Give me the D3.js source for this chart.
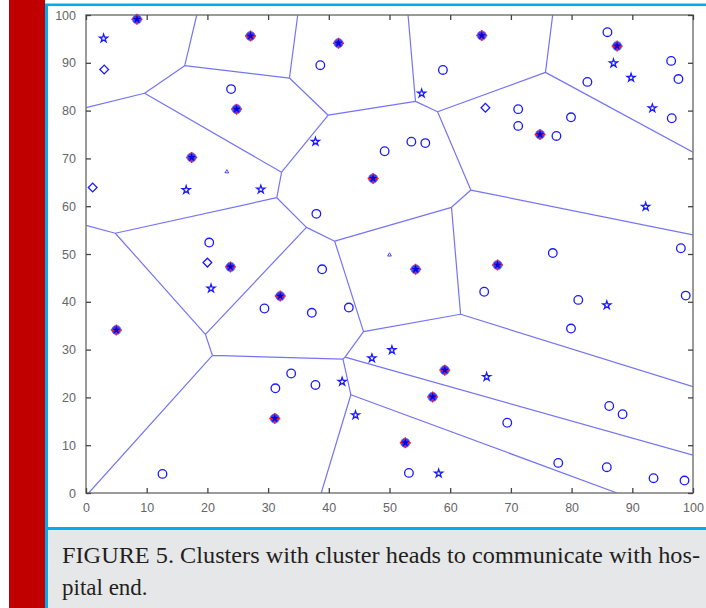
<!DOCTYPE html>
<html><head><meta charset="utf-8">
<script src="https://cdn.jsdelivr.net/npm/d3@7"></script>
<style>html,body{margin:0;padding:0;background:#fff;}svg{display:block;}</style>
</head><body>
<svg id="c" width="706" height="608"></svg>
<script>
// ---- data ----
const xTicks = [0,10,20,30,40,50,60,70,80,90,100];
const yTicks = [0,10,20,30,40,50,60,70,80,90,100];
const clusterHeads = [
  [8.4,99.1],[27.1,95.6],[41.6,94.1],[65.2,95.7],[87.5,93.5],
  [24.8,80.3],[17.4,70.2],[47.3,65.8],[74.8,75.0],
  [23.8,47.3],[54.3,46.8],[67.8,47.7],[32.0,41.2],[5.0,34.1],
  [59.1,25.7],[57.1,20.1],[31.1,15.6],[52.6,10.5]
];
const circleNodes = [
  [23.9,84.5],[38.6,89.5],[37.95,58.4],[20.3,52.4],[58.8,88.5],[85.9,96.4],
  [96.4,90.4],[97.6,86.6],[82.6,86.0],[96.5,78.4],[79.9,78.6],[71.2,80.3],
  [71.2,76.8],[77.5,74.7],[53.6,73.5],[55.9,73.2],[49.2,71.5],[98.0,51.2],
  [76.9,50.2],[38.9,46.8],[29.4,38.6],[37.2,37.7],[43.3,38.8],[33.8,25.0],
  [31.2,21.9],[37.8,22.6],[12.6,4.0],[65.6,42.1],[81.1,40.4],[98.8,41.3],
  [79.9,34.4],[69.4,14.7],[86.2,18.2],[88.4,16.5],[53.2,4.2],[77.8,6.3],
  [85.8,5.4],[93.5,3.1],[98.6,2.6]
];
const diamondNodes = [[3.0,88.6],[1.1,63.9],[20.0,48.2],[65.8,80.6]];
const starNodes = [
  [2.9,95.1],[37.8,73.5],[16.5,63.4],[28.8,63.5],[55.3,83.6],[86.9,89.9],
  [89.8,86.9],[93.3,80.5],[92.2,59.9],[20.6,42.8],[42.2,23.3],[44.4,16.3],
  [85.8,39.3],[50.4,29.9],[47.1,28.2],[66.0,24.3],[58.1,4.1]
];
const tinyNodes = [[50.0,49.8],[23.2,67.2]];
const captionLines = [
  "FIGURE 5. Clusters with cluster heads to communicate with hos-",
  "pital end."
];

// ---- layout ----
const svg = d3.select("#c");
const W = 706, H = 608;
const cyan = "#00aeef";
svg.append("rect").attr("x",0).attr("y",0).attr("width",W).attr("height",H).attr("fill","#fff");
svg.append("rect").attr("x",9).attr("y",0).attr("width",36).attr("height",H).attr("fill","#c00000");
svg.append("rect").attr("x",45).attr("y",3.5).attr("width",W-45).attr("height",H-3.5).attr("fill",cyan);
svg.append("rect").attr("x",48).attr("y",6).attr("width",W-48).attr("height",521).attr("fill","#fff");
svg.append("rect").attr("x",48).attr("y",530).attr("width",W-48).attr("height",H-530).attr("fill","#e6e7e8");

const x = d3.scaleLinear().domain([0,100]).range([86,693]);
const y = d3.scaleLinear().domain([0,100]).range([493,15]);

const g = svg.append("g");
g.append("defs").append("clipPath").attr("id","pc")
  .append("rect").attr("x",x(0)).attr("y",y(100)).attr("width",x(100)-x(0)).attr("height",y(0)-y(100));

// Voronoi of cluster heads, computed in data space
const vor = d3.Delaunay.from(clusterHeads).voronoi([0,0,100,100]);
const p = d3.path();
const ctx = {
  moveTo:(a,b)=>p.moveTo(x(a),y(b)),
  lineTo:(a,b)=>p.lineTo(x(a),y(b)),
  closePath:()=>p.closePath()
};
vor.render(ctx);
g.append("path").attr("d",p.toString()).attr("fill","none")
  .attr("stroke","#5c5cf5").attr("stroke-width",1.2).attr("stroke-opacity",0.85)
  .attr("clip-path","url(#pc)");

// frame + ticks
const frameCol = "#7a7a7a";
g.append("rect").attr("x",x(0)).attr("y",y(100)).attr("width",x(100)-x(0)).attr("height",y(0)-y(100))
  .attr("fill","none").attr("stroke",frameCol).attr("stroke-width",1.5);
const axB = d3.axisBottom(x).tickValues(xTicks).tickSizeInner(-5).tickSizeOuter(0).tickPadding(10);
const axL = d3.axisLeft(y).tickValues(yTicks).tickSizeInner(-5).tickSizeOuter(0).tickPadding(10);
const axT = d3.axisTop(x).tickValues(xTicks).tickSizeInner(-5).tickSizeOuter(0).tickFormat("");
const axR = d3.axisRight(y).tickValues(yTicks).tickSizeInner(-5).tickSizeOuter(0).tickFormat("");
function styleAx(sel){
  sel.select(".domain").remove();
  sel.selectAll(".tick line").attr("stroke","#444").attr("stroke-width",1.3);
  sel.selectAll(".tick text").attr("fill","#666").attr("font-family","'Liberation Sans', Arial, sans-serif").attr("font-size",12.5);
}
g.append("g").attr("transform",`translate(0,${y(0)})`).call(axB).call(styleAx);
g.append("g").attr("transform",`translate(${x(0)},0)`).call(axL).call(styleAx);
g.append("g").attr("transform",`translate(0,${y(100)})`).call(axT).call(styleAx);
g.append("g").attr("transform",`translate(${x(100)},0)`).call(axR).call(styleAx);

// markers
const blue = "#1a1aff";
const sym = (type,size)=>d3.symbol().type(type).size(size);
g.selectAll(".circ").data(circleNodes).join("circle").attr("class","circ")
  .attr("cx",d=>x(d[0])).attr("cy",d=>y(d[1])).attr("r",4.3)
  .attr("fill","none").attr("stroke",blue).attr("stroke-width",1.3);
g.selectAll(".dia").data(diamondNodes).join("path").attr("class","dia")
  .attr("transform",d=>`translate(${x(d[0])},${y(d[1])}) rotate(45)`)
  .attr("d",sym(d3.symbolSquare,38))
  .attr("fill","none").attr("stroke",blue).attr("stroke-width",1.3);
g.selectAll(".star").data(starNodes).join("path").attr("class","star")
  .attr("transform",d=>`translate(${x(d[0])},${y(d[1])})`)
  .attr("d",sym(d3.symbolStar,20))
  .attr("fill","none").attr("stroke",blue).attr("stroke-width",1.3);
g.selectAll(".tiny").data(tinyNodes).join("path").attr("class","tiny")
  .attr("transform",d=>`translate(${x(d[0])},${y(d[1])})`)
  .attr("d",sym(d3.symbolTriangle,6))
  .attr("fill","none").attr("stroke",blue).attr("stroke-width",0.8);
const heads = g.selectAll(".head").data(clusterHeads).join("g").attr("class","head")
  .attr("transform",d=>`translate(${x(d[0])},${y(d[1])})`);
heads.append("circle").attr("r",4.6).attr("fill","#3a3aff").attr("stroke","#7070ff").attr("stroke-width",0.8);
heads.append("path").attr("d","M-5.5,0H5.5M0,-5.5V5.5").attr("stroke","#ff1a1a").attr("stroke-width",1.4);
heads.append("path").attr("d",sym(d3.symbolStar,22)).attr("fill","#0000d8");

// caption
const cap = svg.append("g");
captionLines.forEach((t,i)=>{
  const el = cap.append("text").attr("x",62).attr("y",563+i*32)
    .attr("font-family","'Liberation Serif','Times New Roman',serif")
    .attr("font-size",23).attr("fill","#231f20").text(t);
  if(i===0){ el.attr("textLength",638).attr("lengthAdjust","spacingAndGlyphs"); }
});
</script>
</body></html>
